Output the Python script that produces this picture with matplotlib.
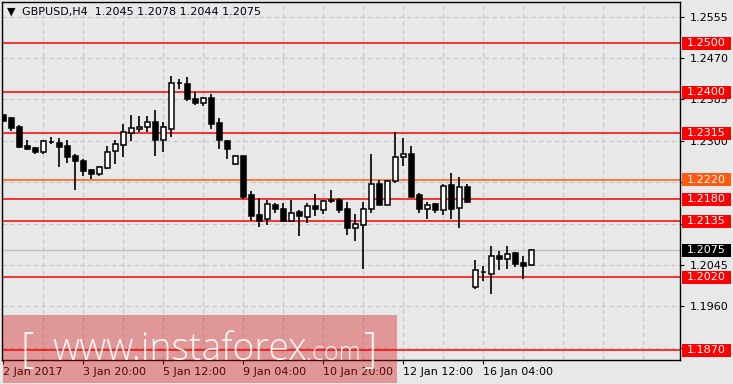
import matplotlib
matplotlib.use("Agg")
import matplotlib.pyplot as plt
from matplotlib.patches import Rectangle
from matplotlib.transforms import blended_transform_factory

# свечи GBPUSD H4
opens = [1.2353, 1.2346, 1.2329, 1.2290, 1.2285, 1.2276, 1.2298, 1.2295, 1.2290, 1.2269,
         1.2258, 1.2240, 1.2232, 1.2245, 1.2278, 1.2292, 1.2316, 1.2324, 1.2328, 1.2338,
         1.2302, 1.2325, 1.2418, 1.2416, 1.2385, 1.2378, 1.2387, 1.2336, 1.2300, 1.2252,
         1.2268, 1.2188, 1.2147, 1.2139, 1.2168, 1.2161, 1.2136, 1.2153, 1.2144, 1.2166,
         1.2157, 1.2177, 1.2178, 1.2159, 1.2122, 1.2127, 1.2159, 1.2211, 1.2169, 1.2217,
         1.2266, 1.2272, 1.2188, 1.2159, 1.2170, 1.2157, 1.2209, 1.2163, 1.2205, 1.1999,
         1.2030, 1.2027, 1.2063, 1.2057, 1.2069, 1.2049, 1.2045]
highs = [1.2355, 1.2348, 1.2332, 1.2302, 1.2287, 1.2302, 1.2308, 1.2306, 1.2301, 1.2273,
         1.2263, 1.2243, 1.2249, 1.2290, 1.2302, 1.2334, 1.2353, 1.2351, 1.2351, 1.2363,
         1.2339, 1.2433, 1.2426, 1.2431, 1.2400, 1.2390, 1.2396, 1.2347, 1.2302, 1.2271,
         1.2269, 1.2197, 1.2182, 1.2178, 1.2173, 1.2173, 1.2178, 1.2158, 1.2172, 1.2191,
         1.2178, 1.2199, 1.2182, 1.2174, 1.2149, 1.2174, 1.2273, 1.2219, 1.2218, 1.2318,
         1.2306, 1.2289, 1.2192, 1.2174, 1.2172, 1.2211, 1.2233, 1.2225, 1.2211, 1.2055,
         1.2043, 1.2085, 1.2074, 1.2085, 1.2072, 1.2064, 1.2078]
lows = [1.2339, 1.2321, 1.2286, 1.2282, 1.2273, 1.2273, 1.2293, 1.2247, 1.2255, 1.2198,
        1.2228, 1.2222, 1.2228, 1.2243, 1.2252, 1.2267, 1.2300, 1.2317, 1.2317, 1.2269,
        1.2276, 1.2308, 1.2407, 1.2381, 1.2374, 1.2371, 1.2325, 1.2283, 1.2263, 1.2250,
        1.2180, 1.2136, 1.2124, 1.2128, 1.2152, 1.2134, 1.2135, 1.2105, 1.2132, 1.2146,
        1.2150, 1.2172, 1.2152, 1.2107, 1.2095, 1.2037, 1.2152, 1.2169, 1.2168, 1.2213,
        1.2248, 1.2185, 1.2152, 1.2139, 1.2151, 1.2148, 1.2139, 1.2120, 1.2173, 1.1996,
        1.2013, 1.1986, 1.2035, 1.2037, 1.2040, 1.2017, 1.2044]
closes = [1.2341, 1.2327, 1.2288, 1.2284, 1.2276, 1.2299, 1.2297, 1.2288, 1.2267, 1.2259,
          1.2237, 1.2232, 1.2246, 1.2276, 1.2294, 1.2317, 1.2326, 1.2328, 1.2338, 1.2302,
          1.2328, 1.2418, 1.2419, 1.2386, 1.2378, 1.2387, 1.2335, 1.2301, 1.2284, 1.2269,
          1.2185, 1.2146, 1.2135, 1.2170, 1.2161, 1.2135, 1.2151, 1.2146, 1.2166, 1.2159,
          1.2176, 1.2178, 1.2157, 1.2122, 1.2129, 1.2159, 1.2211, 1.2169, 1.2217, 1.2266,
          1.2272, 1.2185, 1.2159, 1.2168, 1.2157, 1.2207, 1.2161, 1.2205, 1.2175, 1.2034,
          1.2031, 1.2063, 1.2057, 1.2067, 1.2047, 1.2044, 1.2075]

# уровни
levels = [1.2500, 1.2400, 1.2315, 1.2220, 1.2180, 1.2135, 1.2020, 1.1870]
level_colors = ['#ff0000', '#ff0000', '#ff0000', '#ff5a10', '#ff0000', '#ff0000', '#ff0000', '#ff0000']
last_price = 1.2075

yticks = [1.2555, 1.2470, 1.2385, 1.2300, 1.2215, 1.2130, 1.2045, 1.1960, 1.1875]
xtick_pos = [0, 10, 20, 30, 40, 50, 60]
xtick_labels = ['2 Jan 2017', '3 Jan 20:00', '5 Jan 12:00', '9 Jan 04:00',
                '10 Jan 20:00', '12 Jan 12:00', '16 Jan 04:00']

W, H = 733, 384
bg = '#e8e8e8'
fig = plt.figure(figsize=(W / 100, H / 100), dpi=100, facecolor=bg)
ax = fig.add_axes([2 / W, 1 - 360 / H, 678 / W, 358 / H], facecolor=bg)
ax.set_xlim(-0.16, 84.59)
ax.set_ylim(1.18501, 1.25848)

# сетка
for k in range(5, 85, 5):
    ax.axvline(k, color='#c4c4c4', lw=0.8, ls=(0, (4, 3)), zorder=0.5)
for y in yticks:
    ax.axhline(y, color='#c4c4c4', lw=0.8, ls=(0, (4, 3)), zorder=0.5)

# линия цены и уровни
ax.axhline(last_price, color='#c0c0c0', lw=1, zorder=0.8)
for lv, c in zip(levels, level_colors):
    ax.axhline(lv, color=c, lw=1.1, zorder=1)

# свечи
idx = list(range(len(opens)))
ax.vlines(idx, lows, highs, color='black', lw=1.2, zorder=2)
bottoms = [min(o, c) for o, c in zip(opens, closes)]
heights = [abs(c - o) for o, c in zip(opens, closes)]
faces = ['white' if c >= o else 'black' for o, c in zip(opens, closes)]
ax.bar(idx, heights, bottom=bottoms, width=0.62, color=faces,
       edgecolor='black', linewidth=1.1, zorder=3)

# оси
for s in ax.spines.values():
    s.set_color('black')
    s.set_linewidth(1)
ax.yaxis.tick_right()
ax.set_yticks(yticks)
ax.set_yticklabels([f'{v:.4f}' for v in yticks])
ax.set_xticks(xtick_pos)
ax.set_xticklabels(xtick_labels)
for lab in ax.get_xticklabels():
    lab.set_ha('left')
ax.tick_params(axis='both', labelsize=8, length=3, width=0.8, colors='black', pad=2)
ax.tick_params(axis='y', pad=4)

# метки уровней справа
tr = blended_transform_factory(ax.transAxes, ax.transData)
bw = 49 / 678
bh = 13 * (1.25848 - 1.18501) / 358
for lv, c, txt_c in list(zip(levels, level_colors, ['white'] * len(levels))) + [(last_price, 'black', 'white')]:
    ax.add_patch(Rectangle((1.0025, lv - bh / 2), bw, bh, transform=tr,
                           facecolor=c, edgecolor='none', clip_on=False, zorder=6))
    ax.text(1.0025 + bw / 2, lv, f'{lv:.4f}', transform=tr, ha='center', va='center',
            fontsize=8, color=txt_c, zorder=7, clip_on=False)

# заголовок
ax.text(0.007, 0.972, '\u25bc', transform=ax.transAxes, fontsize=8, va='center', ha='left')
ax.text(0.029, 0.972, 'GBPUSD,H4  1.2045 1.2078 1.2044 1.2075', transform=ax.transAxes,
        fontsize=8, va='center', ha='left', color='#000010')

# водяной знак
fig.patches.append(Rectangle((3 / W, 1 - 383 / H), 394 / W, 68 / H, transform=fig.transFigure,
                             facecolor=(0.83, 0.08, 0.08), alpha=0.38, edgecolor='none', zorder=10))
wm = dict(color='white', alpha=0.9, zorder=11, va='baseline', ha='left')
fig.text(21 / W, 1 - 362 / H, '[', fontsize=30, family='Open Sans', fontweight='light', **wm)
fig.text(52 / W, 1 - 360 / H, 'www.instaforex', fontsize=27, family='Open Sans', fontweight='light', **wm)
fig.text(306 / W, 1 - 360 / H, '.com', fontsize=18, family='Open Sans', fontweight='light', **wm)
fig.text(364 / W, 1 - 362 / H, ']', fontsize=30, family='Open Sans', fontweight='light', **wm)

fig.savefig('out.png', dpi=100, facecolor=bg)
